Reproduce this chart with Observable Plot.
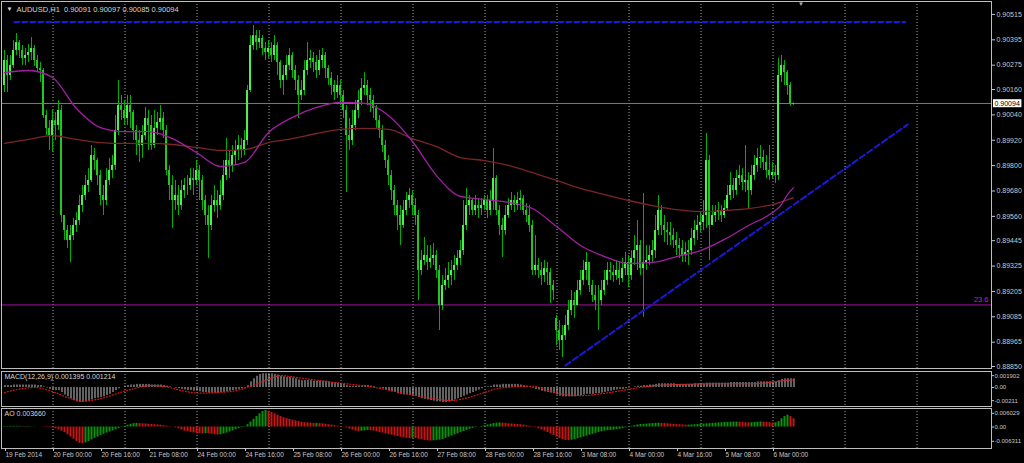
<!DOCTYPE html>
<html><head><meta charset="utf-8">
<script src="https://cdn.jsdelivr.net/npm/d3@7"></script>
<script src="https://cdn.jsdelivr.net/npm/@observablehq/plot@0.6"></script>
<style>
html,body{margin:0;padding:0;background:#000;}
#chart{width:1024px;height:463px;background:#000;overflow:hidden;}
#chart svg{display:block;}
</style></head><body><div id="chart"></div>
<script>
const symbol = "AUDUSD", timeframe = "H1";

const barOpen = [
0.90179,0.90297,0.90226,0.90274,0.90345,0.90382,0.90345,0.90307,0.90321,0.90335,
0.90354,0.90297,0.90259,0.90250,0.90037,0.89976,0.89942,0.90013,0.89990,0.90061,
0.89564,0.89493,0.89446,0.89469,0.89517,0.89540,0.89611,0.89659,0.89706,0.89730,
0.89848,0.89824,0.89753,0.89659,0.89635,0.89730,0.89777,0.89801,0.89966,0.90084,
0.90061,0.90023,0.90084,0.90051,0.89966,0.89919,0.89895,0.89942,0.90023,0.89990,
0.89895,0.89976,0.90004,0.90023,0.89966,0.89777,0.89706,0.89635,0.89659,0.89611,
0.89682,0.89706,0.89706,0.89739,0.89730,0.89777,0.89730,0.89635,0.89564,0.89517,
0.89611,0.89635,0.89611,0.89659,0.89753,0.89824,0.89801,0.89848,0.89872,0.89895,
0.89872,0.89919,0.90155,0.90368,0.90415,0.90382,0.90401,0.90354,0.90335,0.90354,
0.90321,0.90368,0.90288,0.90203,0.90226,0.90274,0.90321,0.90250,0.90203,0.90132,
0.90155,0.90250,0.90297,0.90307,0.90288,0.90250,0.90297,0.90321,0.90259,0.90212,
0.90179,0.90146,0.90179,0.90132,0.90061,0.89942,0.89919,0.89990,0.90061,0.90108,
0.90165,0.90179,0.90132,0.90108,0.90070,0.90013,0.89966,0.89895,0.89824,0.89753,
0.89682,0.89611,0.89564,0.89517,0.89588,0.89635,0.89659,0.89611,0.89564,0.89304,
0.89351,0.89375,0.89342,0.89361,0.89375,0.89304,0.89138,0.89233,0.89257,0.89280,
0.89304,0.89328,0.89361,0.89398,0.89517,0.89611,0.89635,0.89588,0.89611,0.89597,
0.89611,0.89635,0.89588,0.89635,0.89739,0.89588,0.89517,0.89493,0.89564,0.89611,
0.89635,0.89611,0.89635,0.89644,0.89588,0.89564,0.89517,0.89304,0.89328,0.89304,
0.89280,0.89313,0.89294,0.89233,0.89077,0.89020,0.88973,0.88996,0.89044,0.89115,
0.89162,0.89138,0.89209,0.89257,0.89304,0.89342,0.89233,0.89186,0.89162,0.89162,
0.89209,0.89257,0.89304,0.89294,0.89280,0.89304,0.89266,0.89313,0.89342,0.89280,
0.89361,0.89398,0.89422,0.89313,0.89342,0.89351,0.89375,0.89398,0.89493,0.89588,
0.89517,0.89493,0.89484,0.89469,0.89446,0.89422,0.89408,0.89375,0.89389,0.89398,
0.89455,0.89493,0.89517,0.89531,0.89564,0.89824,0.89517,0.89564,0.89578,0.89588,
0.89564,0.89597,0.89659,0.89706,0.89682,0.89739,0.89753,0.89720,0.89730,0.89682,
0.89753,0.89801,0.89834,0.89838,0.89815,0.89777,0.89753,0.89767,0.89753,0.90226,
0.90274,0.90240,0.90179,0.90091];

const barHigh = [
0.90345,0.90321,0.90321,0.90392,0.90425,0.90392,0.90368,0.90354,0.90373,0.90406,
0.90368,0.90321,0.90288,0.90259,0.90061,0.90013,0.90061,0.90051,0.90108,0.90084,
0.89564,0.89517,0.89517,0.89550,0.89578,0.89659,0.89706,0.89753,0.89786,0.89895,
0.89881,0.89834,0.89777,0.89706,0.89786,0.89834,0.89848,0.90037,0.90203,0.90132,
0.90108,0.90132,0.90132,0.90061,0.89990,0.89966,0.89990,0.90075,0.90061,0.90037,
0.90061,0.90051,0.90084,0.90051,0.89990,0.89801,0.89753,0.89730,0.89706,0.89730,
0.89739,0.89753,0.89786,0.89786,0.89824,0.89801,0.89753,0.89659,0.89611,0.89659,
0.89706,0.89682,0.89730,0.89824,0.89928,0.89872,0.89895,0.89919,0.89942,0.89928,
0.89966,0.90179,0.90415,0.90463,0.90439,0.90439,0.90415,0.90382,0.90392,0.90382,
0.90415,0.90382,0.90297,0.90274,0.90321,0.90354,0.90335,0.90274,0.90226,0.90203,
0.90297,0.90382,0.90345,0.90335,0.90321,0.90345,0.90354,0.90335,0.90274,0.90240,
0.90203,0.90226,0.90203,0.90155,0.90084,0.90023,0.90061,0.90108,0.90155,0.90212,
0.90240,0.90203,0.90165,0.90132,0.90084,0.90037,0.89990,0.89919,0.89848,0.89777,
0.89706,0.89635,0.89611,0.89635,0.89673,0.89692,0.89682,0.89644,0.89588,0.89398,
0.89460,0.89422,0.89422,0.89432,0.89398,0.89328,0.89280,0.89313,0.89342,0.89351,
0.89375,0.89398,0.89446,0.89635,0.89692,0.89659,0.89644,0.89659,0.89644,0.89644,
0.89659,0.89659,0.89682,0.89881,0.89753,0.89611,0.89550,0.89611,0.89644,0.89673,
0.89659,0.89673,0.89682,0.89659,0.89621,0.89611,0.89540,0.89469,0.89361,0.89342,
0.89351,0.89342,0.89313,0.89257,0.89091,0.89067,0.89044,0.89091,0.89162,0.89209,
0.89200,0.89257,0.89304,0.89351,0.89389,0.89342,0.89257,0.89233,0.89233,0.89257,
0.89304,0.89342,0.89342,0.89328,0.89351,0.89342,0.89361,0.89389,0.89375,0.89398,
0.89469,0.89540,0.89446,0.89668,0.89422,0.89422,0.89446,0.89564,0.89659,0.89611,
0.89564,0.89531,0.89531,0.89503,0.89484,0.89455,0.89446,0.89436,0.89446,0.89503,
0.89540,0.89564,0.89578,0.89635,0.89952,0.89848,0.89611,0.89611,0.89626,0.89611,
0.89635,0.89706,0.89767,0.89739,0.89777,0.89801,0.89786,0.89895,0.89767,0.89801,
0.89848,0.89881,0.89895,0.89872,0.89848,0.89895,0.89815,0.89801,0.90307,0.90321,
0.90297,0.90250,0.90193,0.90097];

const barLow = [
0.90146,0.90146,0.90203,0.90259,0.90321,0.90307,0.90274,0.90274,0.90288,0.90297,
0.90269,0.90240,0.90193,0.90023,0.89942,0.89872,0.89862,0.89919,0.89966,0.89531,
0.89446,0.89408,0.89342,0.89446,0.89484,0.89517,0.89578,0.89635,0.89673,0.89720,
0.89777,0.89706,0.89611,0.89564,0.89611,0.89706,0.89739,0.89777,0.89942,0.90013,
0.89990,0.89990,0.89976,0.89919,0.89848,0.89815,0.89834,0.89919,0.89872,0.89872,
0.89881,0.89942,0.89966,0.89928,0.89753,0.89635,0.89503,0.89588,0.89564,0.89588,
0.89644,0.89659,0.89682,0.89659,0.89706,0.89635,0.89588,0.89517,0.89361,0.89493,
0.89578,0.89550,0.89588,0.89635,0.89730,0.89739,0.89767,0.89801,0.89824,0.89834,
0.89848,0.89895,0.90146,0.90345,0.90345,0.90354,0.90321,0.90297,0.90307,0.90288,
0.90297,0.90226,0.90165,0.90132,0.90203,0.90250,0.90212,0.90155,0.90023,0.90108,
0.90132,0.90226,0.90259,0.90240,0.90212,0.90226,0.90259,0.90212,0.90179,0.90132,
0.90108,0.90117,0.90084,0.90023,0.89673,0.89872,0.89895,0.89966,0.90023,0.90084,
0.90132,0.90084,0.90051,0.90023,0.89976,0.89928,0.89862,0.89786,0.89706,0.89635,
0.89564,0.89493,0.89422,0.89503,0.89564,0.89597,0.89564,0.89517,0.89162,0.89280,
0.89328,0.89304,0.89313,0.89328,0.89266,0.89020,0.89115,0.89209,0.89219,0.89233,
0.89257,0.89304,0.89328,0.89375,0.89493,0.89564,0.89564,0.89564,0.89550,0.89564,
0.89588,0.89550,0.89564,0.89588,0.89564,0.89469,0.89365,0.89469,0.89550,0.89588,
0.89578,0.89588,0.89588,0.89564,0.89531,0.89484,0.89280,0.89280,0.89266,0.89233,
0.89247,0.89233,0.89148,0.89162,0.88949,0.88926,0.88892,0.88973,0.89020,0.89091,
0.89077,0.89138,0.89186,0.89233,0.89257,0.89200,0.89153,0.89115,0.89020,0.89138,
0.89186,0.89233,0.89257,0.89247,0.89257,0.89233,0.89247,0.89280,0.89223,0.89257,
0.89328,0.89304,0.89280,0.89082,0.89304,0.89328,0.89342,0.89361,0.89469,0.89469,
0.89436,0.89422,0.89422,0.89408,0.89375,0.89361,0.89342,0.89342,0.89328,0.89375,
0.89422,0.89446,0.89484,0.89493,0.89503,0.89351,0.89517,0.89531,0.89540,0.89531,
0.89550,0.89588,0.89635,0.89644,0.89659,0.89706,0.89682,0.89673,0.89597,0.89659,
0.89730,0.89767,0.89786,0.89777,0.89739,0.89730,0.89739,0.89715,0.89730,0.90193,
0.90179,0.90132,0.90080,0.90085];

const barClose = [
0.90297,0.90226,0.90274,0.90345,0.90382,0.90345,0.90307,0.90321,0.90335,0.90354,
0.90297,0.90259,0.90250,0.90037,0.89976,0.89942,0.90013,0.89990,0.90061,0.89564,
0.89493,0.89446,0.89469,0.89517,0.89540,0.89611,0.89659,0.89706,0.89730,0.89848,
0.89824,0.89753,0.89659,0.89635,0.89730,0.89777,0.89801,0.89966,0.90084,0.90061,
0.90023,0.90084,0.90051,0.89966,0.89919,0.89895,0.89942,0.90023,0.89990,0.89895,
0.89976,0.90004,0.90023,0.89966,0.89777,0.89706,0.89635,0.89659,0.89611,0.89682,
0.89706,0.89706,0.89739,0.89730,0.89777,0.89730,0.89635,0.89564,0.89517,0.89611,
0.89635,0.89611,0.89659,0.89753,0.89824,0.89801,0.89848,0.89872,0.89895,0.89872,
0.89919,0.90155,0.90368,0.90415,0.90382,0.90401,0.90354,0.90335,0.90354,0.90321,
0.90368,0.90288,0.90203,0.90226,0.90274,0.90321,0.90250,0.90203,0.90132,0.90155,
0.90250,0.90297,0.90307,0.90288,0.90250,0.90297,0.90321,0.90259,0.90212,0.90179,
0.90146,0.90179,0.90132,0.90061,0.89942,0.89919,0.89990,0.90061,0.90108,0.90165,
0.90179,0.90132,0.90108,0.90070,0.90013,0.89966,0.89895,0.89824,0.89753,0.89682,
0.89611,0.89564,0.89517,0.89588,0.89635,0.89659,0.89611,0.89564,0.89304,0.89351,
0.89375,0.89342,0.89361,0.89375,0.89304,0.89138,0.89233,0.89257,0.89280,0.89304,
0.89328,0.89361,0.89398,0.89517,0.89611,0.89635,0.89588,0.89611,0.89597,0.89611,
0.89635,0.89588,0.89635,0.89739,0.89588,0.89517,0.89493,0.89564,0.89611,0.89635,
0.89611,0.89635,0.89644,0.89588,0.89564,0.89517,0.89304,0.89328,0.89304,0.89280,
0.89313,0.89294,0.89233,0.89209,0.89020,0.88973,0.88996,0.89044,0.89115,0.89162,
0.89138,0.89209,0.89257,0.89304,0.89342,0.89233,0.89186,0.89162,0.89162,0.89209,
0.89257,0.89304,0.89294,0.89280,0.89304,0.89266,0.89313,0.89342,0.89280,0.89361,
0.89398,0.89422,0.89313,0.89342,0.89351,0.89375,0.89398,0.89493,0.89588,0.89517,
0.89493,0.89484,0.89469,0.89446,0.89422,0.89408,0.89375,0.89389,0.89398,0.89455,
0.89493,0.89517,0.89531,0.89564,0.89824,0.89517,0.89564,0.89578,0.89588,0.89564,
0.89597,0.89659,0.89706,0.89682,0.89739,0.89753,0.89720,0.89730,0.89682,0.89753,
0.89801,0.89834,0.89838,0.89815,0.89777,0.89753,0.89767,0.89753,0.90226,0.90274,
0.90240,0.90179,0.90091,0.90094];

// moving averages (bar index, price)
const maFastBars = [0,8,16,24,32,40,48,56,64,72,80,88,96,104,112,120,128,136,144,152,160,168,176,184,192,200,208,216,224,232,240,248,256,259,261,263];
const maFast = [0.90240,0.90250,0.90217,0.90070,0.89980,0.89961,0.89961,0.89928,0.89862,0.89796,0.89815,0.89957,0.90028,0.90075,0.90099,0.90094,0.90037,0.89914,0.89753,0.89654,0.89640,0.89626,0.89597,0.89512,0.89422,0.89370,0.89337,0.89342,0.89370,0.89398,0.89451,0.89517,0.89578,0.89616,0.89663,0.89696];
const maSlowBars = [0,8,16,24,32,40,48,56,64,72,80,88,96,104,112,120,128,136,144,152,160,168,176,184,192,200,208,216,224,232,240,248,256,263];
const maSlow = [0.89905,0.89924,0.89942,0.89924,0.89909,0.89905,0.89905,0.89900,0.89886,0.89872,0.89876,0.89909,0.89928,0.89952,0.89971,0.89976,0.89971,0.89928,0.89890,0.89838,0.89824,0.89801,0.89767,0.89730,0.89692,0.89663,0.89635,0.89611,0.89592,0.89583,0.89588,0.89597,0.89616,0.89649];

// drawn objects
const resistanceBars = [3.3, 300.3];
const resistancePrice = [0.90479, 0.90479];
const trendBars = [187, 301];
const trendPrice = [0.88855, 0.89994];
const fibLevel = 0.89141;
const fibLabel = "23.6";

// axes
const priceTicks = [0.90515,0.90395,0.90275,0.90160,0.90040,0.89920,0.89800,0.89680,0.89560,0.89445,0.89325,0.89205,0.89085,0.88965,0.88850];
const dayStartBars = [16,40,64,88,112,136,160,184,208,232,256,280,304];
const timeTickBars = [0,16,32,48,64,80,96,112,128,144,160,176,192,208,224,240,256];
const timeTickLabels = ["19 Feb 2014","20 Feb 00:00","20 Feb 16:00","21 Feb 08:00","24 Feb 00:00","24 Feb 16:00","25 Feb 08:00","26 Feb 00:00","26 Feb 16:00","27 Feb 08:00","28 Feb 00:00","28 Feb 16:00","3 Mar 08:00","4 Mar 00:00","4 Mar 16:00","5 Mar 08:00","6 Mar 00:00"];

// MACD(12,26,9)
const macdMain = [
0.0003,0.0003,0.0003,0.0004,0.0004,0.0004,0.0004,0.0004,0.0004,0.0004,
0.0004,0.0003,0.0003,0.0001,-0.0001,-0.0003,-0.0004,-0.0005,-0.0005,-0.0008,
-0.0012,-0.0015,-0.0018,-0.0021,-0.0023,-0.0024,-0.0024,-0.0023,-0.0022,-0.002,
-0.0018,-0.0017,-0.0016,-0.0015,-0.0013,-0.0011,-0.0008,-0.0005,-0.0002,0,
0.0002,0.0003,0.0004,0.0004,0.0005,0.0005,0.0005,0.0005,0.0005,0.0004,
0.0004,0.0004,0.0004,0.0003,0.0002,0.0001,0,-0.0001,-0.0002,-0.0003,
-0.0004,-0.0005,-0.0005,-0.0006,-0.0006,-0.0007,-0.0008,-0.0008,-0.0009,-0.0009,
-0.0009,-0.0009,-0.0008,-0.0008,-0.0007,-0.0006,-0.0005,-0.0004,-0.0003,-0.0002,
-0.0001,0.0003,0.0009,0.0014,0.0018,0.0021,0.0022,0.0022,0.0022,0.0022,
0.0021,0.002,0.0018,0.0017,0.0016,0.0016,0.0015,0.0014,0.0012,0.0011,
0.0011,0.0011,0.0011,0.001,0.001,0.001,0.001,0.001,0.0009,0.0008,
0.0007,0.0007,0.0006,0.0005,0.0003,0.0002,0.0002,0.0002,0.0002,0.0002,
0.0003,0.0003,0.0002,0.0001,0,-0.0001,-0.0002,-0.0004,-0.0005,-0.0007,
-0.0008,-0.001,-0.0011,-0.0012,-0.0012,-0.0013,-0.0013,-0.0014,-0.0016,-0.0018,
-0.0019,-0.002,-0.0021,-0.0022,-0.0023,-0.0023,-0.0024,-0.0024,-0.0023,-0.0022,
-0.002,-0.0018,-0.0016,-0.0014,-0.0012,-0.001,-0.0008,-0.0006,-0.0004,-0.0002,
0,0.0001,0.0002,0.0004,0.0004,0.0004,0.0005,0.0005,0.0005,0.0005,
0.0005,0.0005,0.0004,0.0003,0.0002,0.0001,-0.0001,-0.0003,-0.0004,-0.0006,
-0.0007,-0.0008,-0.0009,-0.001,-0.0012,-0.0014,-0.0015,-0.0015,-0.0015,-0.0015,
-0.0015,-0.0014,-0.0013,-0.0012,-0.0011,-0.0011,-0.0011,-0.001,-0.001,-0.0009,
-0.0008,-0.0007,-0.0006,-0.0005,-0.0004,-0.0003,-0.0003,-0.0002,-0.0001,0,
0.0001,0.0002,0.0002,0.0003,0.0003,0.0004,0.0004,0.0005,0.0006,0.0006,
0.0006,0.0006,0.0006,0.0006,0.0005,0.0005,0.0005,0.0005,0.0005,0.0005,
0.0006,0.0006,0.0006,0.0006,0.0007,0.0007,0.0007,0.0007,0.0007,0.0007,
0.0007,0.0007,0.0008,0.0008,0.0008,0.0008,0.0008,0.0008,0.0008,0.0008,
0.0008,0.0009,0.0009,0.0009,0.0009,0.0009,0.0009,0.0009,0.0011,0.0013,
0.00138,0.0014,0.0014,0.001395];
const macdSignalBars = [0,10,15,21,26,32,40,49,54,60,65,76,82,88,92,99,110,121,132,143,149,154,160,165,176,182,188,193,199,208,215,226,238,249,260,263];
const macdSignal = [-0.0008,0,-0.0005,-0.0016,-0.0022,-0.0018,-0.0006,0.0003,0.0001,-0.0006,-0.0009,-0.0006,0.0002,0.0013,0.0019,0.0015,0.0008,0.0002,-0.0008,-0.0018,-0.0021,-0.0017,-0.0008,-0.0001,0.0002,-0.0006,-0.0012,-0.0013,-0.001,-0.0003,0.0002,0.0005,0.0006,0.0006,0.0011,0.001214];
const macdTicks = [0.001902, 0, -0.00211];
const macdTickLabels = ["0.001902", "0.00", "-0.00211"];

// Awesome Oscillator
const aoValues = [
0.0002,0.0002,0.0003,0.0003,0.0003,0.0003,0.0002,0.0002,0.0002,0.0001,
0.0001,0,0,-0.0001,-0.0002,-0.0003,-0.0005,-0.0008,-0.0012,-0.0018,
-0.0025,-0.0034,-0.0044,-0.0054,-0.0064,-0.0072,-0.0074,-0.007,-0.0064,-0.0057,
-0.005,-0.0044,-0.0038,-0.0032,-0.0027,-0.0022,-0.0017,-0.0012,-0.0007,-0.0002,
0.0003,0.0008,0.0012,0.0015,0.0016,0.0015,0.0014,0.0013,0.0012,0.0011,
0.001,0.0009,0.0008,0.0006,0.0004,0.0002,0,-0.0004,-0.0008,-0.0013,
-0.0018,-0.0021,-0.0024,-0.0026,-0.0028,-0.0029,-0.003,-0.0029,-0.003,-0.0032,
-0.0034,-0.0035,-0.0034,-0.0031,-0.0027,-0.0022,-0.0017,-0.0012,-0.0007,-0.0003,
0.0002,0.001,0.0022,0.0034,0.0046,0.0058,0.0068,0.0073,0.007,0.0064,
0.0058,0.0052,0.0046,0.0041,0.0037,0.0033,0.003,0.0027,0.0024,0.0021,
0.0019,0.0018,0.0017,0.0016,0.0016,0.0015,0.0014,0.0012,0.001,0.0008,
0.0006,0.0004,0.0002,0,-0.0004,-0.0009,-0.0014,-0.0018,-0.002,-0.0019,
-0.0017,-0.0015,-0.0016,-0.0018,-0.0021,-0.0024,-0.0027,-0.003,-0.0033,-0.0036,
-0.0039,-0.0042,-0.0045,-0.0048,-0.005,-0.0051,-0.005,-0.0051,-0.0054,-0.0057,
-0.0059,-0.0061,-0.0062,-0.0061,-0.0059,-0.0058,-0.0055,-0.005,-0.0045,-0.004,
-0.0035,-0.003,-0.0025,-0.002,-0.0015,-0.001,-0.0006,-0.0003,0,0.0003,
0.0006,0.0009,0.0012,0.0015,0.0017,0.0018,0.0017,0.0016,0.0014,0.0013,
0.0012,0.0011,0.001,0.0008,0.0006,0.0004,0.0002,-0.0003,-0.0008,-0.0013,
-0.0018,-0.0024,-0.003,-0.0037,-0.0044,-0.0051,-0.0056,-0.0059,-0.006,-0.0058,
-0.0055,-0.0052,-0.0048,-0.0044,-0.004,-0.0036,-0.0032,-0.0028,-0.0024,-0.0021,
-0.0018,-0.0016,-0.0015,-0.0014,-0.0012,-0.001,-0.0007,-0.0004,-0.0001,0.0003,
0.0006,0.0009,0.0011,0.0012,0.0013,0.0014,0.0015,0.0016,0.0017,0.0016,
0.0015,0.0014,0.0013,0.0012,0.0011,0.001,0.0009,0.0008,0.0008,0.0009,
0.001,0.0011,0.0012,0.0013,0.0014,0.0015,0.0016,0.0017,0.0018,0.0019,
0.002,0.002,0.0021,0.0022,0.0022,0.0021,0.002,0.0019,0.0018,0.0019,
0.002,0.0021,0.0022,0.0021,0.002,0.0019,0.0018,0.0019,0.0024,0.0036,
0.0046,0.0052,0.0046,0.00366];
const aoTicks = [0.006029, 0, -0.006311];
const aoTickLabels = ["0.006029", "0.00", "-0.006311"];

// ---------- build ----------
const bars = barClose.map((c, i) => ({i, o: barOpen[i], h: barHigh[i], l: barLow[i], c, up: c >= barOpen[i]}));
const last = bars[bars.length - 1];
const fmt5 = d3.format(".5f");
const font = "'Liberation Sans', Arial, Helvetica, sans-serif";
const baseStyle = {background: "#000", color: "#c8c8c8", fontFamily: font, fontSize: "7px", overflow: "visible"};
const xOpts = {domain: [-1, 329], axis: null};
const frameColor = "#bdbdbd";
const grid = () => Plot.ruleX(dayStartBars, {stroke: "#a8a8a8", strokeDasharray: "1,2", dx: 0.5});

const main = Plot.plot({
  width: 1024, height: 369, marginTop: 1, marginRight: 33, marginBottom: 1, marginLeft: 1,
  style: baseStyle,
  x: xOpts,
  y: {domain: [0.888404, 0.905763], axis: null},
  marks: [
    grid(),
    Plot.ruleY([last.c], {stroke: "#7c7c7c"}),
    Plot.ruleY([fibLevel], {stroke: "#a412a4"}),
    Plot.ruleX(bars, {x: "i", y1: "l", y2: "h", stroke: "#00b000", strokeWidth: 1}),
    Plot.rect(bars, {filter: d => d.up, x1: d => d.i - 1/3, x2: d => d.i + 1/3, y1: "o", y2: "c", fill: "#4cf24c"}),
    Plot.rect(bars, {filter: d => !d.up, x1: d => d.i - 1/3, x2: d => d.i + 1/3, y1: "o", y2: "c", fill: "#1fc81f"}),
    Plot.line(maSlowBars.map((b, k) => ({b, v: maSlow[k]})), {x: "b", y: "v", stroke: "#7a2626", strokeWidth: 1.3, curve: "monotone-x"}),
    Plot.line(maFastBars.map((b, k) => ({b, v: maFast[k]})), {x: "b", y: "v", stroke: "#a21fa2", strokeWidth: 1.3, curve: "monotone-x"}),
    Plot.line(resistanceBars.map((b, k) => ({b, v: resistancePrice[k]})), {x: "b", y: "v", stroke: "#1a1ad6", strokeWidth: 2, strokeDasharray: "5,3"}),
    Plot.line(trendBars.map((b, k) => ({b, v: trendPrice[k]})), {x: "b", y: "v", stroke: "#1a1ad6", strokeWidth: 2, strokeDasharray: "6,3"}),
    Plot.axisY(priceTicks, {anchor: "right", tickSize: 3, tickPadding: 2, tickFormat: fmt5, label: null, fontSize: 7}),
    Plot.text([fibLabel], {x: 329, y: fibLevel, textAnchor: "end", dx: -3, dy: -5, fill: "#c81ec8", fontSize: 7.5}),
    Plot.text([fmt5(last.c)], {x: 329, y: last.c, textAnchor: "start", dx: 3, fill: "#000", fontSize: 7}),
    Plot.text(["\u25BC"], {frameAnchor: "top-left", dx: 5, dy: 5, lineAnchor: "top", fill: "#e0e0e0", fontSize: 6}),
    Plot.text([`${symbol},${timeframe}  ${fmt5(last.o)} ${fmt5(last.h)} ${fmt5(last.l)} ${fmt5(last.c)}`], {frameAnchor: "top-left", dx: 15, dy: 5, lineAnchor: "top", fill: "#d4d4d4", fontSize: 7.5}),
    Plot.text(["\u25BC"], {x: bars.length + 1.5, frameAnchor: "top", lineAnchor: "top", dy: 0, fill: "#b0b0b0", fontSize: 6}),
    Plot.frame({stroke: frameColor})
  ]
});

const macdPlot = Plot.plot({
  width: 1024, height: 38, marginTop: 2, marginRight: 33, marginBottom: 1, marginLeft: 1,
  style: baseStyle,
  x: xOpts,
  y: {domain: [-0.003049, 0.002568], axis: null},
  marks: [
    grid(),
    Plot.ruleX(macdMain.map((v, i) => ({i, v})), {x: "i", y1: 0, y2: "v", stroke: "#c4c4c4", strokeWidth: 1, dx: 0.5}),
    Plot.line(macdSignalBars.map((b, k) => ({b, v: macdSignal[k]})), {x: "b", y: "v", stroke: "#e21212", strokeWidth: 1.2, strokeDasharray: "1,2", curve: "monotone-x"}),
    Plot.axisY(macdTicks, {anchor: "right", tickSize: 2, tickPadding: 1, tickFormat: d => macdTickLabels[macdTicks.indexOf(d)], label: null, fontSize: 6}),
    Plot.text([`MACD(12,26,9) ${macdMain[macdMain.length - 1].toFixed(6)} ${macdSignal[macdSignal.length - 1].toFixed(6)}`], {frameAnchor: "top-left", dx: 3, dy: 3, lineAnchor: "top", fill: "#d4d4d4", fontSize: 7}),
    Plot.frame({stroke: frameColor})
  ]
});

const aoRows = aoValues.map((v, i) => ({i, v, up: i === 0 || v >= aoValues[i - 1]}));
const aoPlot = Plot.plot({
  width: 1024, height: 56, marginTop: 1, marginRight: 33, marginBottom: 15, marginLeft: 1,
  style: baseStyle,
  x: xOpts,
  y: {domain: [-0.009476, 0.008153], axis: null},
  marks: [
    grid(),
    Plot.ruleX(aoRows, {filter: d => d.up, x: "i", y1: 0, y2: "v", stroke: "#0e8e0e", strokeWidth: 2}),
    Plot.ruleX(aoRows, {filter: d => !d.up, x: "i", y1: 0, y2: "v", stroke: "#c41616", strokeWidth: 2}),
    Plot.axisY(aoTicks, {anchor: "right", tickSize: 2, tickPadding: 1, tickFormat: d => aoTickLabels[aoTicks.indexOf(d)], label: null, fontSize: 6}),
    Plot.axisX(timeTickBars, {anchor: "bottom", tickSize: 3, tickPadding: 1, tickFormat: d => timeTickLabels[timeTickBars.indexOf(d)], textAnchor: "start", dx: 1, label: null, fontSize: 6.5}),
    Plot.text([`AO ${aoValues[aoValues.length - 1].toFixed(6)}`], {frameAnchor: "top-left", dx: 3, dy: 3, lineAnchor: "top", fill: "#d4d4d4", fontSize: 7}),
    Plot.frame({stroke: frameColor})
  ]
});

const root = document.getElementById("chart");
root.append(main, macdPlot, aoPlot);

// white box behind the current-price label
const priceText = [...main.querySelectorAll("text")].find(t => t.textContent === fmt5(last.c));
if (priceText) {
  const bb = priceText.getBBox();
  const r = document.createElementNS("http://www.w3.org/2000/svg", "rect");
  r.setAttribute("x", bb.x - 1.5);
  r.setAttribute("y", bb.y - 0.5);
  r.setAttribute("width", bb.width + 3);
  r.setAttribute("height", bb.height + 1);
  r.setAttribute("fill", "#ffffff");
  const tr = priceText.getAttribute("transform");
  if (tr) r.setAttribute("transform", tr);
  priceText.parentNode.insertBefore(r, priceText);
}
</script></body></html>
